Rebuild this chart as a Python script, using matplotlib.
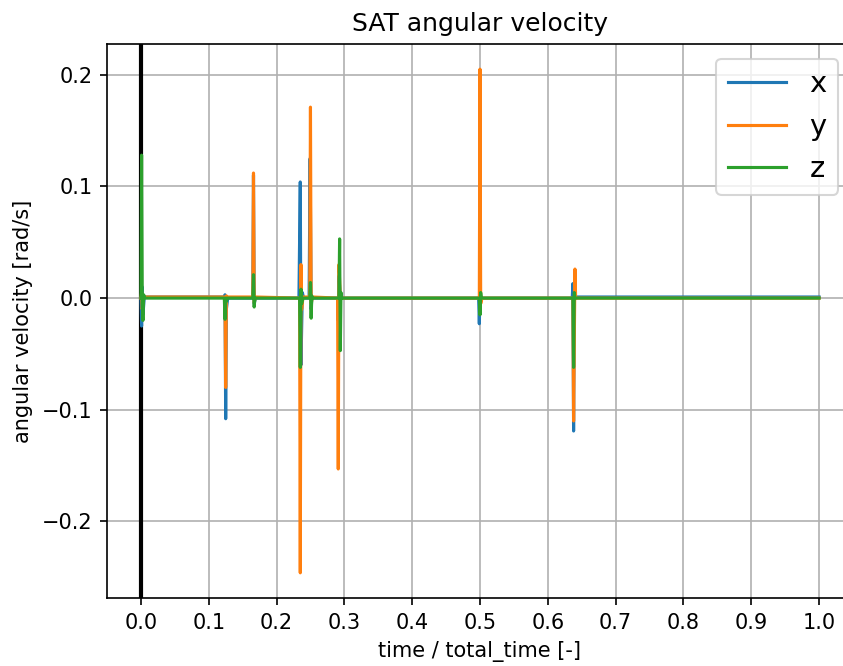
import matplotlib
matplotlib.use("Agg")
from matplotlib import pylab as plt
import numpy as np

# breakpoints (time / total_time, rad/s)
tX = [0.000, 0.001, 0.002, 0.003, 0.005, 0.123, 0.124, 0.125, 0.126, 0.128,
      0.165, 0.166, 0.167, 0.169, 0.233, 0.235, 0.236, 0.238, 0.240, 0.248,
      0.2495, 0.251, 0.252, 0.290, 0.291, 0.292, 0.294, 0.498, 0.499, 0.500,
      0.502, 0.636, 0.637, 0.638, 0.639, 0.641, 1.000]
wX = [0.000, -0.025, 0.010, -0.015, 0.001, 0.001, 0.003, -0.108, -0.010, 0.000,
      0.000, 0.110, -0.005, 0.000, 0.000, 0.104, -0.060, 0.005, 0.000, 0.000,
      0.125, -0.010, 0.000, 0.000, -0.020, 0.020, 0.000, 0.000, -0.023, 0.003,
      0.000, 0.000, 0.013, -0.119, 0.005, 0.001, 0.001]

tY = [0.000, 0.001, 0.002, 0.004, 0.123, 0.124, 0.125, 0.126, 0.128, 0.165,
      0.166, 0.167, 0.169, 0.234, 0.235, 0.236, 0.237, 0.239, 0.249, 0.250,
      0.251, 0.253, 0.290, 0.291, 0.292, 0.294, 0.499, 0.500, 0.501, 0.503,
      0.637, 0.638, 0.640, 0.641, 1.000]
wY = [0.000, 0.005, -0.010, 0.001, 0.001, -0.002, -0.080, 0.002, 0.001, 0.001,
      0.112, -0.004, 0.001, 0.000, -0.246, 0.030, -0.010, 0.001, 0.001, 0.171,
      -0.005, 0.001, 0.000, -0.153, 0.030, 0.000, 0.000, 0.205, -0.005, 0.000,
      0.000, -0.110, 0.026, 0.000, 0.000]

tZ = [0.000, 0.001, 0.002, 0.003, 0.004, 0.006, 0.123, 0.124, 0.125, 0.126,
      0.127, 0.165, 0.166, 0.167, 0.168, 0.234, 0.235, 0.236, 0.237, 0.239,
      0.249, 0.250, 0.251, 0.252, 0.253, 0.292, 0.293, 0.294, 0.295, 0.296,
      0.499, 0.500, 0.501, 0.502, 0.637, 0.638, 0.639, 0.640, 1.000]
wZ = [0.000, 0.128, -0.005, -0.020, 0.003, 0.000, 0.000, -0.019, 0.000, -0.003,
      0.000, 0.000, 0.021, -0.008, 0.000, 0.000, -0.062, 0.008, -0.005, 0.000,
      0.000, 0.014, -0.018, 0.002, 0.000, 0.000, 0.053, -0.047, 0.005, 0.000,
      0.000, -0.015, 0.005, 0.000, 0.000, -0.062, 0.005, 0.000, 0.000]

labels = ["x", "y", "z"]

dpi = 150
fig = plt.figure(figsize=(843 / dpi, 666 / dpi), dpi=dpi)
# the original picture was cropped, its right spine falls just off the image
ax = fig.add_axes([107 / 843, 68 / 666, 746 / 843, 554 / 666])

ax.axvline(0, color="black", linewidth=2)
ax.plot(tX, wX, label=labels[0])
ax.plot(tY, wY, label=labels[1])
ax.plot(tZ, wZ, label=labels[2])

ax.set_xticks(np.arange(0, 1.01, 0.1))
ax.grid(True)
ax.legend(loc="upper right", fontsize=14)
ax.set_xlabel("time / total_time [-]")
ax.set_ylabel("angular velocity [rad/s]")
ax.set_title("SAT angular velocity")

fig.savefig("out.png", dpi=dpi)
